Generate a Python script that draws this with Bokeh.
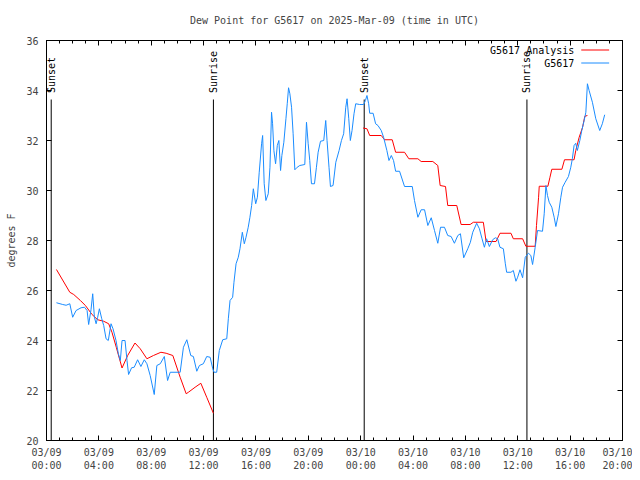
import numpy as np
from bokeh.plotting import figure
from bokeh.models import FixedTicker, LinearAxis, Range1d, Label, Arrow, ColumnDataSource
from bokeh.embed import file_html
from bokeh.resources import INLINE
from bokeh.core.properties import value

FONT = "DejaVu Sans Mono"

# ---- data (hours since 2025-03-09 00:00 UTC, dew point in F) ----
red_h1 = [0.76, 1.78, 2.08, 2.59, 2.97, 3.48, 3.91, 4.37, 4.75, 5.0, 5.33, 5.77, 6.2, 6.76, 7.16,
          7.67, 8.17, 8.74, 9.14, 9.65, 10.21, 10.67, 10.84, 11.35, 11.79, 12.24, 12.75]
red_v1 = [26.84, 25.93, 25.84, 25.6, 25.4, 25.04, 24.83, 24.77, 24.67, 24.33, 23.73, 22.9, 23.4, 23.9, 23.67,
          23.27, 23.4, 23.53, 23.49, 23.4, 22.53, 21.87, 21.93, 22.13, 22.29, 21.73, 21.09]
red_h2 = [24.18, 24.48, 24.69, 25.57, 25.83, 26.41, 26.67, 27.35, 27.68, 28.37, 28.62, 29.51, 29.89, 30.07,
          30.48, 30.65, 31.34, 31.67, 32.36, 32.61, 33.37, 33.58, 34.34, 34.64, 35.48, 35.66, 36.37, 36.62,
          37.33, 37.43, 37.59, 37.64, 38.3, 38.45, 38.6, 39.37, 39.57, 40.3, 40.43, 40.69, 40.95, 41.12, 41.32]
red_v2 = [32.5, 32.47, 32.2, 32.2, 32.03, 32.03, 31.53, 31.53, 31.27, 31.27, 31.16, 31.16, 31.0, 30.2,
          30.16, 29.4, 29.4, 28.64, 28.64, 28.73, 28.73, 27.96, 27.96, 28.29, 28.29, 28.07, 28.07, 27.77,
          27.77, 28.6, 29.73, 30.17, 30.17, 30.51, 30.85, 30.85, 31.23, 31.23, 31.6, 32.13, 32.53, 32.97, 33.0]

blue_h = [0.76, 1.24, 1.5, 1.78, 2.0, 2.26, 2.64, 2.9, 3.1, 3.22, 3.4, 3.53, 3.66, 3.79, 3.91, 4.04, 4.22,
          4.37, 4.55, 4.72, 4.93, 5.08, 5.31, 5.49, 5.64, 5.77, 6.0, 6.15, 6.27, 6.5, 6.7, 6.96, 7.21,
          7.47, 7.67, 7.92, 8.23, 8.43, 8.69, 9.0, 9.25, 9.45, 10.21, 10.46, 10.72, 11.02, 11.22, 11.48,
          11.68, 11.98, 12.24, 12.5, 12.7, 12.8, 13.0, 13.2, 13.46, 13.77,
          13.89, 14.02, 14.22, 14.32, 14.48, 14.65, 14.78, 14.96, 15.11, 15.24, 15.41, 15.54, 15.67, 15.8,
          15.98, 16.11, 16.25, 16.43, 16.51, 16.63, 16.76, 16.94, 17.07, 17.19, 17.27, 17.37, 17.5, 17.63,
          17.75, 17.88, 17.98, 18.13, 18.29, 18.39, 18.49, 18.59, 18.72, 18.84, 18.97, 19.15, 19.35, 19.73,
          19.86, 19.99, 20.11, 20.24, 20.47, 20.62, 20.75, 20.93, 21.18, 21.33, 21.43, 21.58, 21.69, 21.89,
          22.1, 22.35, 22.53, 22.7, 22.86, 22.96, 23.09, 23.21, 23.34, 23.49, 23.62, 23.92, 24.23, 24.36,
          24.48, 24.61, 24.69, 24.95, 25.14, 25.32, 25.57, 25.75, 26.0, 26.16, 26.34, 26.51, 26.67, 26.97,
          27.35, 27.94, 28.11, 28.37, 28.62, 28.88, 29.13, 29.39, 29.64, 29.89, 30.1, 30.4, 30.65, 30.91,
          31.16, 31.42, 31.62, 31.87, 32.18, 32.38, 32.56, 32.86, 33.07, 33.27, 33.45, 33.62, 33.83, 34.08,
          34.29, 34.46, 34.64, 34.9, 35.05, 35.15, 35.48, 35.66, 35.86, 35.99, 36.17, 36.37, 36.57, 36.82,
          37.0, 37.13, 37.33, 37.51, 37.89, 38.02, 38.15, 38.27, 38.4, 38.6, 38.78, 38.91, 39.11, 39.29,
          39.42, 39.62, 39.87, 40.05, 40.17, 40.3, 40.43, 40.55, 40.74, 40.89, 41.07, 41.2, 41.32, 41.45,
          41.7, 41.96, 42.26, 42.46, 42.64]
blue_v = [25.51, 25.44, 25.41, 25.47, 24.93, 25.2, 25.31, 25.33, 25.2, 24.64, 25.23, 25.87, 24.93, 24.67,
          24.93, 25.27, 24.87, 24.6, 24.07, 24.0, 24.67, 24.47, 24.0, 23.47, 23.2, 24.0, 24.0, 23.2, 22.64,
          22.91, 22.93, 23.23, 22.96, 23.23, 23.07, 22.6, 21.84, 23.0, 23.07, 23.36, 22.4, 22.73, 22.73,
          23.73, 24.03, 23.4, 23.36, 22.77, 23.0, 23.07, 23.36, 23.33, 22.87, 22.73, 22.73, 23.6, 24.03, 24.07,
          24.87, 25.6, 25.73, 26.33, 27.07, 27.33, 27.67, 28.33, 27.87, 28.13, 28.53, 28.93, 29.4, 30.07,
          29.47, 29.73, 30.73, 31.87, 32.2, 30.27, 29.6, 29.87, 30.93, 33.13, 32.67, 31.6, 31.07, 31.8,
          32.0, 30.8, 31.4, 31.93, 32.87, 33.47, 34.11, 33.87, 33.33, 32.27, 30.83, 30.93, 31.0, 31.04,
          32.73, 31.87, 31.2, 30.27, 30.27, 30.93, 31.53, 31.97, 32.0, 32.8, 32.0, 30.93, 30.16, 30.2,
          31.13, 31.6, 32.0, 32.27, 33.33, 33.67, 32.87, 32.0, 32.4, 33.07, 33.47, 33.44, 33.44, 33.6,
          33.8, 33.47, 33.09, 33.09, 32.67, 32.6, 32.4, 32.13, 31.6, 31.2, 31.4, 31.2, 30.77, 30.77,
          30.16, 30.16, 29.6, 28.93, 29.23, 29.23, 28.6, 28.91, 28.4, 27.89, 28.53, 28.53, 28.2, 28.16,
          27.89, 28.2, 28.27, 27.31, 27.67, 27.93, 28.33, 28.69, 28.47, 28.07, 27.73, 28.07, 27.76, 28.03,
          28.11, 28.07, 27.73, 27.67, 27.07, 26.73, 26.73, 26.8, 26.37, 26.53, 26.83, 26.51, 27.33, 27.49,
          27.4, 27.04, 27.73, 28.4, 28.37, 29.07, 30.2, 29.8, 29.53, 29.33, 28.93, 28.56, 29.07, 29.73,
          30.13, 30.33, 30.56, 30.93, 31.27, 31.8, 31.89, 31.6, 32.0, 32.4, 32.8, 33.13, 34.27, 34.0,
          33.53, 32.87, 32.4, 32.67, 33.03]

sun_h = [0.36, 12.75, 24.27, 36.7]
sun_labels = ["Sunset", "Sunrise", "Sunset", "Sunrise"]

x_ticks = [0, 4, 8, 12, 16, 20, 24, 28, 32, 36, 40, 44]
x_tick_labels = ["03/09\n00:00", "03/09\n04:00", "03/09\n08:00", "03/09\n12:00", "03/09\n16:00",
                 "03/09\n20:00", "03/10\n00:00", "03/10\n04:00", "03/10\n08:00", "03/10\n12:00",
                 "03/10\n16:00", "03/10\n20:00"]
y_ticks = [20, 22, 24, 26, 28, 30, 32, 34, 36]

title_text = "Dew Point for G5617 on 2025-Mar-09 (time in UTC)"
series_names = ["G5617 Analysis", "G5617"]
RED = "#ff0000"
BLUE = "#1a8cff"

p = figure(frame_width=576, frame_height=400, output_backend="svg", toolbar_location=None,
           x_range=Range1d(0, 44), y_range=Range1d(20, 36),
           min_border_left=46, min_border_right=10, min_border_top=40, min_border_bottom=30)
p.xgrid.visible = False
p.ygrid.visible = False
p.outline_line_color = "black"
p.background_fill_color = "white"
p.border_fill_color = "white"

minor = list(range(0, 45))
p.xaxis.ticker = FixedTicker(ticks=x_ticks, minor_ticks=minor)
p.xaxis.major_label_overrides = {t: l for t, l in zip(x_ticks, x_tick_labels)}
p.yaxis.ticker = FixedTicker(ticks=y_ticks)
p.yaxis.axis_label = "degrees F"

for ax in [p.xaxis[0], p.yaxis[0]]:
    ax.major_label_text_font = FONT
    ax.major_label_text_font_size = "10px"
    ax.axis_label_text_font = FONT
    ax.axis_label_text_font_size = "10px"
    ax.axis_label_text_font_style = "normal"
    ax.major_tick_in = 5
    ax.major_tick_out = 0
    ax.minor_tick_in = 3
    ax.minor_tick_out = 0
    ax.axis_line_color = "black"
    ax.major_tick_line_color = "black"
    ax.minor_tick_line_color = "black"
p.yaxis.minor_tick_line_color = None
p.xaxis.major_label_standoff = 6
p.yaxis.major_label_standoff = 8
p.yaxis.axis_label_standoff = 6

# top axis carries the chart title as its axis label
top = LinearAxis(ticker=FixedTicker(ticks=x_ticks, minor_ticks=minor), axis_label=title_text)
top.major_label_overrides = {t: "" for t in x_ticks}
top.axis_label_text_font = FONT
top.axis_label_text_font_size = "10px"
top.axis_label_text_font_style = "normal"
top.axis_label_standoff = 15
right = LinearAxis(ticker=FixedTicker(ticks=y_ticks))
right.major_label_overrides = {t: "" for t in y_ticks}
for ax in [top, right]:
    ax.major_label_standoff = 0
    ax.major_tick_in = 5
    ax.major_tick_out = 0
    ax.minor_tick_in = 3
    ax.minor_tick_out = 0
right.minor_tick_line_color = None
p.add_layout(top, "above")
p.add_layout(right, "right")

# sunrise / sunset markers
sun_src = ColumnDataSource(dict(x=sun_h, lab=sun_labels, y0=[20] * 4, y1=[33.64] * 4, yt=[33.9] * 4))
p.segment(x0="x", y0="y0", x1="x", y1="y1", source=sun_src, line_color="black", line_width=1)
p.text(x="x", y="yt", text="lab", source=sun_src, angle=np.pi / 2, text_align="left",
       text_baseline="middle", text_font=value(FONT), text_font_size="10px", text_color="black")

# data lines
p.line(red_h1, red_v1, line_color=RED, line_width=1)
p.line(red_h2, red_v2, line_color=RED, line_width=1)
p.line(blue_h, blue_v, line_color=BLUE, line_width=1)

# gnuplot style key (text left of sample line)
for i, (name, col) in enumerate(zip(series_names, [RED, BLUE])):
    yk = 35.62 - 0.52 * i
    p.add_layout(Label(x=40.32, y=yk, text=name, text_align="right", text_baseline="middle",
                       text_font=FONT, text_font_size="10px", text_color="black"))
    p.add_layout(Arrow(x_start=40.85, y_start=yk, x_end=42.98, y_end=yk, end=None,
                       line_color=col, line_width=1))

open("out.html", "w").write(file_html(p, INLINE))
